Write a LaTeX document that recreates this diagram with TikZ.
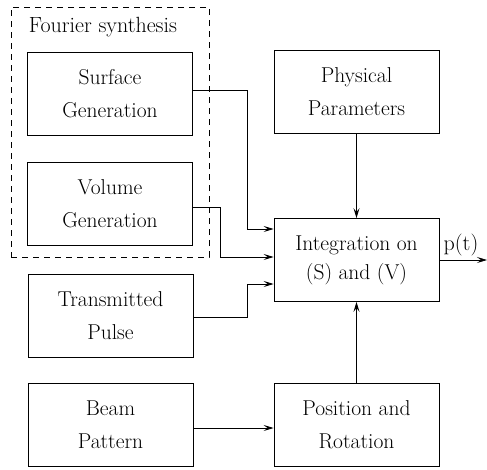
\documentclass[tikz,border=0pt]{standalone}
\usetikzlibrary{arrows.meta}
\begin{document}
\begin{tikzpicture}[x=1pt,y=-1pt,
  blk/.style={draw,line width=0.8pt,minimum width=165pt,minimum height=83pt,align=center,inner sep=0pt,font=\fontsize{21.5}{33}\selectfont},
  conn/.style={line width=0.8pt,-{Stealth[length=10pt,width=6pt,inset=4pt]}},
  lbl/.style={font=\fontsize{22}{25}\selectfont,inner sep=0pt}]
\useasboundingbox (0,0) rectangle (487,469);
\node[draw,dashed,dash pattern=on 6pt off 5pt,line width=0.8pt,minimum width=198pt,minimum height=250pt,inner sep=0pt] (F) at (110,132) {};
\node[lbl] (FT) at (103,27) {Fourier synthesis};
\node[blk] (S) at (110,93.5) {Surface\\Generation};
\node[blk] (V) at (110,204) {Volume\\Generation};
\node[blk] (T) at (110.5,315.5) {Transmitted\\Pulse};
\node[blk] (B) at (110.5,425) {Beam\\Pattern};
\node[blk] (P) at (356.5,92) {Physical\\Parameters};
\node[blk,font=\fontsize{21.5}{29}\selectfont] (I) at (356.5,260) {Integration on\\(S) and (V)};
\node[blk] (R) at (356.5,425) {Position and\\Rotation};
\coordinate (O) at (487,260);
\node[lbl] (pt) at (461,245) {p(t)};
\draw[conn] ([yshift=3pt]S.east) -- (247,90.5) -- (247,229) -- ([yshift=31pt]I.west);
\draw[conn] ([yshift=-3pt]V.east) -- (220,207) -- (220,257) -- ([yshift=3pt]I.west);
\draw[conn] ([yshift=-1.5pt]T.east) -- (247,317) -- (247,284) -- ([yshift=-24pt]I.west);
\draw[conn] ([yshift=-3pt]B.east) -- ([yshift=-3pt]R.west);
\draw[conn] (P.south) -- (I.north);
\draw[conn] (R.north) -- (I.south);
\draw[conn] (I.east) -- (O);
\end{tikzpicture}
\end{document}
